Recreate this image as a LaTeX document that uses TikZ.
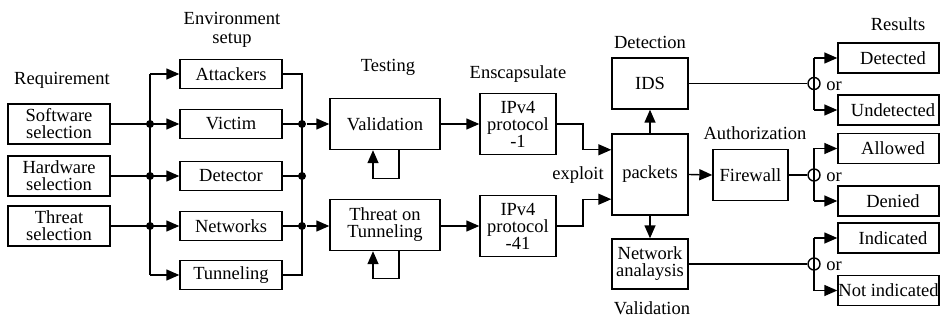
\documentclass[tikz,border=0pt]{standalone}
\usepackage{fontspec}
\setmainfont{Liberation Serif}
\usetikzlibrary{arrows.meta,calc}
\newcommand\restxt[2][9pt]{\makebox[101pt][c]{\hspace{#1}#2}}
\begin{document}
\begin{tikzpicture}[x=1pt,y=-1pt,
  font=\fontsize{18.5}{17}\selectfont,
  every path/.style={line width=1.4pt},
  box/.style={draw, line width=1.4pt, inner sep=0pt, align=center},
  envbox/.style={box, minimum width=102pt, minimum height=29pt},
  reqbox/.style={box, minimum width=102pt, minimum height=40pt},
  resbox/.style={box, minimum width=101pt, minimum height=30pt},
  lbl/.style={inner sep=0pt, align=center},
  arr/.style={-{Triangle[length=13pt,width=11pt]}},
  dot/.style={circle, fill=black, inner sep=0pt, minimum size=8pt},
  orc/.style={circle, draw, line width=1.4pt, inner sep=0pt, minimum size=12pt}]
\useasboundingbox (0,0) rectangle (941,323);
% labels
\node[lbl] (Lreq) at (62,80) {Requirement};
\node[lbl] (Lenv) at (232,30) {Environment\\[2pt]setup};
\node[lbl] (Ltest) at (388,67) {Testing};
\node[lbl] (Lenc) at (518,74) {Enscapsulate};
\node[lbl] (Ldet) at (650,42) {Detection};
\node[lbl] (Lauth) at (755,133) {Authorization};
\node[lbl] (Lval) at (652,308) {Validation};
\node[lbl] (Lres) at (898,24) {Results};
\node[lbl] (Lexp) at (578,175) {exploit};
% requirement boxes
\node[reqbox] (sw) at (59,124) {Software\\selection};
\node[reqbox] (hw) at (59,176) {Hardware\\selection};
\node[reqbox] (th) at (59,226) {Threat\\selection};
% environment boxes
\node[envbox] (att) at (231,74) {Attackers};
\node[envbox] (vic) at (231,124) {Victim};
\node[envbox] (det) at (231,176) {Detector};
\node[envbox] (net) at (231,226) {Networks};
\node[envbox] (tun) at (231,275) {Tunneling};
% testing
\node[box, minimum width=110pt, minimum height=51pt] (val) at (385,124) {Validation};
\node[box, minimum width=110pt, minimum height=51pt] (thr) at (385,225) {Threat on\\Tunneling};
% encapsulate
\node[box, minimum width=76pt, minimum height=61pt] (ip1) at (518,124) {IPv4\\protocol\\-1};
\node[box, minimum width=76pt, minimum height=61pt] (ip41) at (518,226) {IPv4\\protocol\\-41};
% centre
\node[box, minimum width=76pt, minimum height=51pt] (ids) at (650,83.5) {IDS};
\node[box, minimum width=76pt, minimum height=81pt] (pkt) at (650,174.5) {packets};
\node[box, minimum width=76pt, minimum height=50pt] (nwa) at (650,264) {Network\\analaysis};
\node[box, minimum width=75pt, minimum height=51pt] (fw) at (750.5,175) {Firewall};
% results
\node[resbox] (dtd) at (888.5,58) {\restxt{Detected}};
\node[resbox] (und) at (888.5,110) {\restxt{Undetected}};
\node[resbox] (alw) at (888.5,148.5) {\restxt{Allowed}};
\node[resbox] (den) at (888.5,201) {\restxt{Denied}};
\node[resbox] (ind) at (888.5,238) {\restxt{Indicated}};
\node[resbox] (nin) at (888.5,290.5) {\restxt[0pt]{Not indicated}};
% or circles
\node[orc] (c1) at (814,83.5) {};
\node[orc] (c2) at (814,175) {};
\node[orc] (c3) at (814,264) {};
\node[lbl] (or1) at (834,86) {or};
\node[lbl] (or2) at (834,177) {or};
\node[lbl] (or3) at (834,266) {or};
% buses
\coordinate (busL) at (150,0);
\coordinate (busR) at (302,0);
\coordinate (jx) at (583,0);
% left bus
\draw (att.west -| busL) -- (tun.west -| busL);
\draw (sw.east) -- (sw.east -| busL);
\draw (hw.east) -- (hw.east -| busL);
\draw (th.east) -- (th.east -| busL);
\foreach \n in {att,vic,det,net,tun}{\draw[arr] (\n.west -| busL) -- (\n.west);}
\node[dot] (dl1) at (sw.east -| busL) {};
\node[dot] (dl2) at (hw.east -| busL) {};
\node[dot] (dl3) at (th.east -| busL) {};
% right bus
\draw (att.east) -- (att.east -| busR) -- (tun.east -| busR) -- (tun.east);
\draw (vic.east) -- (vic.east -| busR);
\draw (det.east) -- (det.east -| busR);
\draw (net.east) -- (net.east -| busR);
\node[dot] (dr1) at (vic.east -| busR) {};
\node[dot] (dr2) at (det.east -| busR) {};
\node[dot] (dr3) at (net.east -| busR) {};
\draw[arr] (dr1) -- (val.west);
\draw[arr] (dr3) -- (val.west |- dr3);
% self loops
\draw[arr] ($(val.south)+(14,0)$) -- ++(0,28) -| ($(val.south)+(-12,0)$);
\draw[arr] ($(thr.south)+(14,0)$) -- ++(0,27) -| ($(thr.south)+(-12,0)$);
% testing to encapsulate
\draw[arr] (val.east) -- (ip1.west);
\draw[arr] (thr.east |- ip41.west) -- (ip41.west);
% encapsulate to packets
\coordinate (pA) at ($(pkt.north west)!0.2!(pkt.south west)$);
\coordinate (pB) at ($(pkt.north west)!0.8!(pkt.south west)$);
\draw[arr] (ip1.east) -- (ip1.east -| jx) |- (pA);
\draw[arr] (ip41.east) -- (ip41.east -| jx) |- (pB);
% packets out
\draw[arr] (pkt.north) -- (ids.south);
\draw[arr] (pkt.south) -- (nwa.north);
\draw[arr] (pkt.east) -- (fw.west);
% to circles
\draw (ids.east |- c1) -- (c1.west);
\draw (fw.east) -- (c2.west);
\draw (nwa.east |- c3) -- (c3.west);
% splits
\draw (c1 |- dtd.west) -- (c1 |- und.west);
\draw[arr] (c1 |- dtd.west) -- (dtd.west);
\draw[arr] (c1 |- und.west) -- (und.west);
\draw (c2 |- alw.west) -- (c2 |- den.west);
\draw[arr] (c2 |- alw.west) -- (alw.west);
\draw[arr] (c2 |- den.west) -- (den.west);
\draw (c3 |- ind.west) -- (c3 |- nin.west);
\draw[arr] (c3 |- ind.west) -- (ind.west);
\draw[arr] (c3 |- nin.west) -- (nin.west);
\end{tikzpicture}
\end{document}
